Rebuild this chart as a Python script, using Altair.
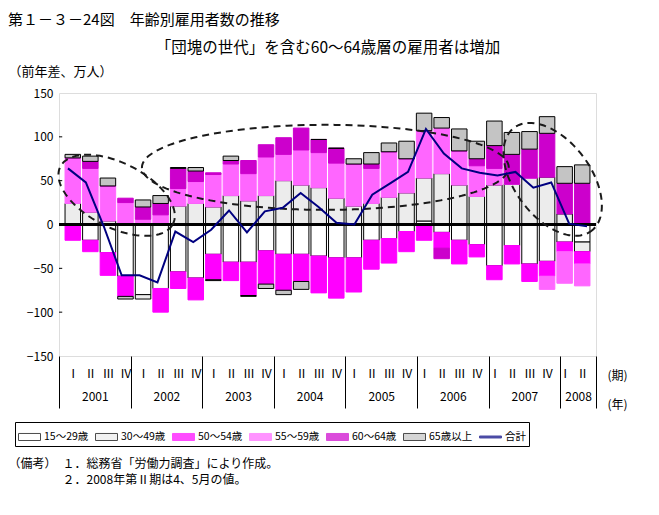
import math
import altair as alt
import pandas as pd

FONT = "Noto Sans CJK JP"

# ---------------- data ----------------
quarter_labels = ["Ⅰ", "Ⅱ", "Ⅲ", "Ⅳ"]
years = ["2001", "2002", "2003", "2004", "2005", "2006", "2007", "2008"]

cats = ["15～29歳", "30～49歳", "50～54歳", "55～59歳", "60～64歳", "65歳以上"]
total_name = "合計"

age_15_29 = [0, -18, -32, -59, -80, -73, -54, -61, -34, -43, -43, -30, -34, -34, -36,
             -38, -38, -18, -16, -8, 4, -9, -18, -23, -47, -24, -45, -42, -20, -20]
age_30_49 = [24, 14, 4, 0, -5, 0, 21, 24, 20, 33, 27, 33, 50, 45, 42,
             30, 21, 24, 31, 36, 49, 58, 45, 32, 45, 46, 53, 54, 12, -11]
age_50_54 = [-18, -13, -26, -23, 0, -27, -19, -25, -29, -21, -38, -38, -41, -31, -42,
             -46, -39, -33, -28, -23, -18, -18, -27, -14, -16, -21, -20, -17, -11, -14]
age_55_59 = [52, 50, 40, 25, 6, 11, 20, 25, 37, 36, 31, 44, 30, 40, 40,
             40, 48, 40, 52, 39, 54, 52, 39, 35, 19, 0, 0, -15, -36, -25]
age_60_64 = [0, 8, 0, 5, 14, 13, 23, 12, 2, 4, 15, 14, 19, 25, 15,
             17, 0, 5, 0, 0, 0, -12, 0, 8, 26, 34, 33, 50, 35, 47]
age_65_over = [4, 6, 9, -3, 8, 9, 1, 4, -1, 5, -1, -5, -5, -9, 0,
               0, 6, 13, 10, 20, 20, 12, 25, 20, 28, 25, 20, 19, 19, 21]
total = [64, 48, -2, -58, -58, -66, -8, -20, -6, 16, -9, 15, 19, 36, 20,
         2, 0, 34, 47, 60, 109, 81, 64, 59, 56, 60, 42, 48, 1, -2]

# dashed annotation ellipses (centre in quarter index / value, semi-axes in value units)
ell_cx = [3.22, 14.88, 27.58]
ell_cy = [33.3, 65.2, 51.5]
ell_a = [69.3, 199.0, 72.3]
ell_b = [36.4, 48.5, 42.0]
ell_angle = [-29.0, 0.0, -56.0]
ASPECT = 19.42  # value units that look as wide as one quarter

y_ticks = [-150, -100, -50, 0, 50, 100, 150]

note_1 = "（備考）　１．総務省「労働力調査」により作成。"
note_2 = "２．2008年第Ⅱ期は4、5月の値。"

# ---------------- styles ----------------
legend_domain = cats + [total_name]
fills = ["#FFFFFF", "#ECECEC", "#FF00FF", "#FF66FF", "#CC00CC", "#C4C4C4", "#000080"]
strokes = ["#000000", "#000000", "#FF00FF", "#FF66FF", "#CC00CC", "#000000", "#000080"]
wide = "M-1,-0.32H1V0.32H-1Z"
thin = "M-1,-0.09H1V0.09H-1Z"
shapes = [wide] * 6 + [thin]

n = len(total)
rows = []
series = [age_15_29, age_30_49, age_50_54, age_55_59, age_60_64, age_65_over]
for ci, (c, s) in enumerate(zip(cats, series)):
    for i, v in enumerate(s):
        rows.append({"x": i + 0.5, "cat": c, "v": v, "ord": ci})
bars_df = pd.DataFrame(rows)

tot_df = pd.DataFrame({"x": [i + 0.5 for i in range(n)], "total": total})

erows = []
for k in range(len(ell_cx)):
    phi = math.radians(ell_angle[k])
    for j in range(121):
        t = 2 * math.pi * j / 120
        u = ell_a[k] * math.cos(t)
        w = ell_b[k] * math.sin(t)
        X = u * math.cos(phi) - w * math.sin(phi)
        Y = u * math.sin(phi) + w * math.cos(phi)
        erows.append({"e": k, "j": j, "x": ell_cx[k] + X / ASPECT, "y": ell_cy[k] + Y})
ell_df = pd.DataFrame(erows)

tick_df = pd.DataFrame({"v": y_ticks[1:-1], "x0": 0.0, "x1": 0.18})

xscale = alt.Scale(domain=[0, n], nice=False, zero=False)
yscale = alt.Scale(domain=[-150, 150], nice=False, zero=False)

fill_scale = alt.Scale(domain=legend_domain, range=fills)
stroke_scale = alt.Scale(domain=legend_domain, range=strokes)
shape_scale = alt.Scale(domain=legend_domain, range=shapes)

leg = alt.Legend(
    title=None, orient="none", legendX=-44, legendY=329, direction="horizontal",
    symbolSize=484, symbolStrokeWidth=1, labelFont=FONT, labelFontSize=10.5,
    labelOffset=3, columnPadding=4, padding=3, strokeColor="black",
    fillColor="white", cornerRadius=0,
)

q_expr = "[" + ",".join("'" + q + "'" for q in quarter_labels) + "][floor(datum.value) % 4]"
y_expr = "[" + ",".join("'" + y + "'" for y in years) + "][floor(datum.value / 4)]"

yaxis = alt.Axis(
    values=y_ticks, ticks=False, domain=False, grid=False, labelFont=FONT,
    labelFontSize=12, labelPadding=6, title="（前年差、万人）", titleAngle=0,
    titleX=-51, titleY=-22, titleAlign="left", titleBaseline="middle",
    titleFont=FONT, titleFontSize=13, titleFontWeight="normal",
)

bars = alt.Chart(bars_df).mark_bar(width=15.5, strokeWidth=1, orient="vertical").encode(
    x=alt.X("x:Q", scale=xscale, axis=alt.Axis(
        orient="bottom", values=[i + 0.5 for i in range(n)], labelExpr=q_expr,
        ticks=False, domain=False, grid=False, labelPadding=12, labelFont=FONT,
        labelFontSize=12, title="(期)", titleX=558, titleY=19, titleAlign="center",
        titleBaseline="middle", titleFont=FONT, titleFontSize=12, titleFontWeight="normal")),
    y=alt.Y("v:Q", stack="zero", scale=yscale, axis=yaxis),
    fill=alt.Fill("cat:N", scale=fill_scale, legend=leg),
    stroke=alt.Stroke("cat:N", scale=stroke_scale, legend=leg),
    order=alt.Order("ord:Q", sort="ascending"),
)

legend_pts = alt.Chart(bars_df).mark_point(filled=True).encode(
    x=alt.X("x:Q", scale=xscale, axis=alt.Axis(
        orient="bottom", labels=False, ticks=False, domain=False, grid=False,
        title=note_2, titleX=3, titleY=118, titleAlign="left", titleBaseline="top",
        titleFont=FONT, titleFontSize=12, titleFontWeight="normal")),
    fill=alt.Fill("cat:N", scale=fill_scale, legend=leg),
    stroke=alt.Stroke("cat:N", scale=stroke_scale, legend=leg),
    shape=alt.Shape("cat:N", scale=shape_scale, legend=leg),
).transform_filter("false")

zero = alt.Chart(tot_df).mark_rule(color="black", strokeWidth=1.5).encode(y=alt.datum(0))

ellipses = alt.Chart(ell_df).mark_line(
    color="#1a1a1a", strokeWidth=2, strokeDash=[7, 5]
).encode(
    x=alt.X("x:Q", scale=xscale, axis=alt.Axis(
        orient="bottom", values=[0, 4, 8, 12, 16, 20, 24, 28, 30], labels=False,
        domain=False, grid=False, ticks=True, tickSize=52, tickColor="black",
        tickWidth=1, title=note_1,
        titleX=-51, titleY=102, titleAlign="left", titleBaseline="top",
        titleFont=FONT, titleFontSize=12, titleFontWeight="normal")),
    y=alt.Y("y:Q", scale=yscale),
    detail="e:N",
    order="j:Q",
)

line = alt.Chart(tot_df).mark_line(color="#000080", strokeWidth=2).encode(
    x=alt.X("x:Q", scale=xscale, axis=alt.Axis(
        orient="bottom", values=[2, 6, 10, 14, 18, 22, 26, 29], labelExpr=y_expr,
        ticks=False, domain=False, grid=False, labelPadding=35, labelFont=FONT,
        labelFontSize=12, title="(年)", titleX=558, titleY=48, titleAlign="center",
        titleBaseline="middle", titleFont=FONT, titleFontSize=12, titleFontWeight="normal")),
    y=alt.Y("total:Q", scale=yscale),
)

ticks = alt.Chart(tick_df).mark_rule(color="black", strokeWidth=1).encode(
    x=alt.X("x0:Q", scale=xscale, axis=alt.Axis(
        orient="top", labels=False, ticks=False, domain=False, grid=False,
        title="「団塊の世代」を含む60～64歳層の雇用者は増加", titlePadding=38,
        titleFont=FONT, titleFontSize=15.5, titleFontWeight="normal")),
    x2="x1:Q",
    y=alt.Y("v:Q", scale=yscale),
)

chart = alt.layer(bars, legend_pts, zero, ellipses, line, ticks).resolve_scale(
    x="independent"
).properties(
    width=537, height=263,
    padding={"left": 0, "top": 5, "right": 0, "bottom": 0},
    title=alt.TitleParams("第１－３－24図　年齢別雇用者数の推移", anchor="start",
                          frame="bounds", font=FONT, fontSize=15, fontWeight="normal",
                          offset=12),
).configure_view(stroke="black", strokeWidth=2).configure(background="white")

chart.save("out.html", embed_options={"renderer": "svg", "actions": False})
